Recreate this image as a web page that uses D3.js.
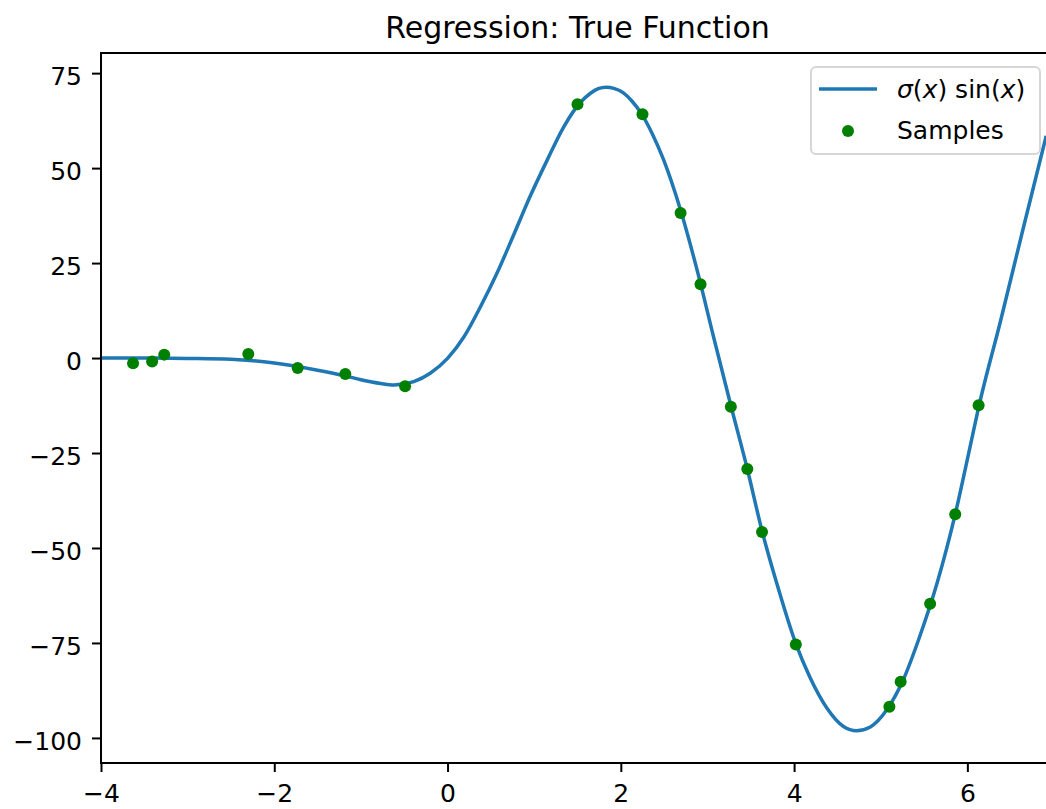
<!DOCTYPE html>
<html>
<head>
<meta charset="utf-8">
<script src="https://cdn.jsdelivr.net/npm/d3@7"></script>
<style>
  body { margin: 0; background: #fff; }
  svg { display: block; font-family: "DejaVu Sans", sans-serif; }
</style>
</head>
<body>
<svg width="1046" height="809"></svg>
<script>
// true function
const curveX = [-4.0, -3.5, -3.0, -2.5, -2.0, -1.5, -1.18, -1.0, -0.77, -0.62, -0.39, -0.2, 0.0,
    0.19, 0.38, 0.57, 0.77, 0.96, 1.15, 1.34, 1.53, 1.65, 1.74, 1.83, 1.92, 2.03, 2.13, 2.23, 2.36,
    2.49, 2.69, 2.88, 3.07, 3.27, 3.46, 3.63, 3.8, 4.02, 4.18, 4.38, 4.57, 4.72, 4.88, 5.07, 5.26,
    5.45, 5.65, 5.86, 6.03, 6.13, 6.38, 6.64, 6.91];
const curveY = [0.0, 0.0, -0.1, -0.3, -1.3, -3.2, -4.7, -5.7, -6.7, -7.1, -6.2, -4.0, -0.1,
    5.6, 13.5, 22.3, 32.8, 42.9, 52.1, 60.8, 67.2, 69.7, 70.9, 71.3, 71.0, 69.8, 67.6, 64.6, 59.2,
    52.4, 38.9, 23.2, 5.6, -12.5, -29.2, -45.5, -59.3, -75.2, -83.9, -92.2, -97.0, -98.1, -97.1, -92.6, -84.7,
    -73.3, -59.3, -41.1, -23.5, -13.0, 9.5, 33.7, 58.5];

// noisy samples
const sampleX = [-3.63, -3.41, -3.27, -2.30, -1.73, -1.18, -0.49, 1.50, 2.25, 2.69,
    2.92, 3.27, 3.46, 3.63, 4.02, 5.10, 5.23, 5.57, 5.86, 6.13];
const sampleY = [-1.4, -0.9, 0.9, 1.05, -2.6, -4.2, -7.4, 66.8, 64.2, 38.2,
    19.4, -12.8, -29.2, -45.8, -75.4, -91.8, -85.2, -64.7, -41.1, -12.4];

const xTicks = [-4, -2, 0, 2, 4, 6];
const yTicks = [-100, -75, -50, -25, 0, 25, 50, 75];

const title = 'Regression: True Function';

const svg = d3.select('svg');
const m = { left: 101, right: 1054, top: 53, bottom: 763 };

const x = d3.scaleLinear().domain([-4, 7]).range([m.left, m.right]);
const y = d3.scaleLinear().domain([-106.6, 80.3]).range([m.bottom, m.top]);

svg.append('defs').append('clipPath').attr('id', 'plot')
    .append('rect')
    .attr('x', m.left).attr('y', m.top)
    .attr('width', m.right - m.left).attr('height', m.bottom - m.top);

const line = d3.line()
    .x((d, i) => x(curveX[i]))
    .y(d => y(d))
    .curve(d3.curveMonotoneX);

svg.append('path')
    .datum(curveY)
    .attr('clip-path', 'url(#plot)')
    .attr('d', line)
    .attr('fill', 'none')
    .attr('stroke', '#1f77b4')
    .attr('stroke-width', 3.5);

svg.append('g')
    .selectAll('circle')
    .data(sampleY)
    .join('circle')
    .attr('cx', (d, i) => x(sampleX[i]))
    .attr('cy', d => y(d))
    .attr('r', 6)
    .attr('fill', 'green');

// axes
const xAxis = svg.append('g')
    .attr('transform', `translate(0,${m.bottom})`)
    .call(d3.axisBottom(x).tickValues(xTicks).tickSize(9).tickPadding(10).tickSizeOuter(0));
const yAxis = svg.append('g')
    .attr('transform', `translate(${m.left},0)`)
    .call(d3.axisLeft(y).tickValues(yTicks).tickSize(9).tickPadding(10).tickSizeOuter(0));

[xAxis, yAxis].forEach(g => {
    g.select('.domain').remove();
    g.selectAll('line').attr('stroke', '#000').attr('stroke-width', 2);
    g.selectAll('text')
        .attr('fill', '#000')
        .style('font-size', '25px')
        .style('font-family', '"DejaVu Sans", sans-serif');
});
xAxis.selectAll('text').attr('dy', '0.78em');
yAxis.selectAll('text').attr('dy', '0.47em');

svg.append('rect')
    .attr('x', m.left).attr('y', m.top)
    .attr('width', m.right - m.left).attr('height', m.bottom - m.top)
    .attr('fill', 'none')
    .attr('stroke', '#000')
    .attr('stroke-width', 2);

svg.append('text')
    .attr('x', (m.left + m.right) / 2)
    .attr('y', 38)
    .attr('text-anchor', 'middle')
    .style('font-size', '30px')
    .text(title);

// legend
const legend = svg.append('g');
legend.append('rect')
    .attr('x', 811).attr('y', 67)
    .attr('width', 229).attr('height', 87)
    .attr('rx', 5)
    .attr('fill', '#fff').attr('fill-opacity', 0.8)
    .attr('stroke', '#d6d6d6').attr('stroke-width', 2);
legend.append('line')
    .attr('x1', 819).attr('x2', 877)
    .attr('y1', 89).attr('y2', 89)
    .attr('stroke', '#1f77b4').attr('stroke-width', 3.5);
legend.append('circle')
    .attr('cx', 848).attr('cy', 131).attr('r', 6)
    .attr('fill', 'green');

const lbl = legend.append('text')
    .attr('x', 897).attr('y', 98)
    .style('font-size', '25px');
lbl.append('tspan').style('font-style', 'italic').text('σ');
lbl.append('tspan').text('(');
lbl.append('tspan').style('font-style', 'italic').text('x');
lbl.append('tspan').text(') sin(');
lbl.append('tspan').style('font-style', 'italic').text('x');
lbl.append('tspan').text(')');

legend.append('text')
    .attr('x', 897).attr('y', 139)
    .style('font-size', '25px')
    .text('Samples');
</script>
</body>
</html>
